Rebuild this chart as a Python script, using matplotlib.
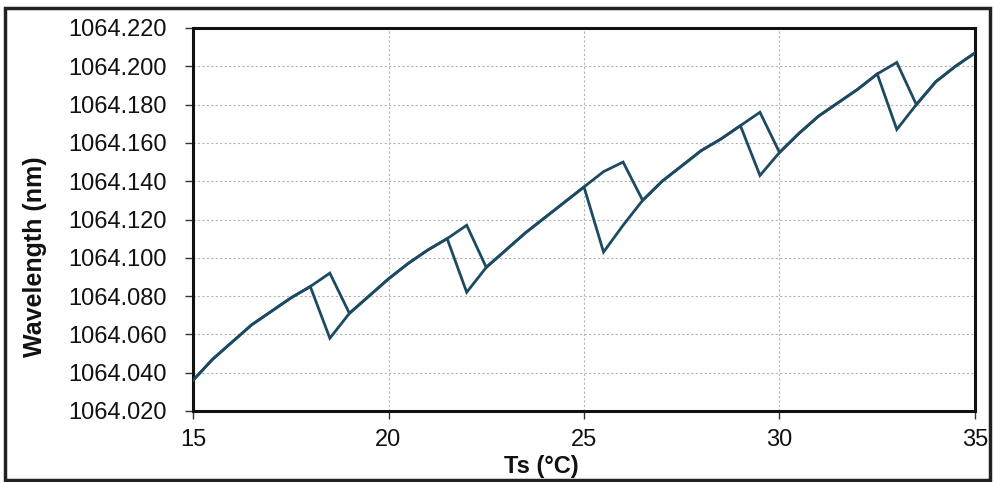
import matplotlib
matplotlib.use("Agg")
import matplotlib.pyplot as plt
from matplotlib.ticker import FormatStrFormatter, MultipleLocator
from matplotlib.patches import Rectangle

plt.rcParams['font.family'] = ['Liberation Sans', 'DejaVu Sans']

# Temperature (°C)
ts = [15, 15.5, 16, 16.5, 17, 17.5, 18, 18.5, 19, 19.5, 20, 20.5, 21, 21.5,
      22, 22.5, 23, 23.5, 24, 24.5, 25, 25.5, 26, 26.5, 27, 27.5, 28, 28.5,
      29, 29.5, 30, 30.5, 31, 31.5, 32, 32.5, 33, 33.5, 34, 34.5, 35]

# Wavelength (nm), heating direction
wl_heating = [1064.036, 1064.047, 1064.056, 1064.065, 1064.072, 1064.079, 1064.085,
              1064.092, 1064.071, 1064.080, 1064.089, 1064.097, 1064.104, 1064.110,
              1064.117, 1064.095, 1064.104, 1064.113, 1064.121, 1064.129, 1064.137,
              1064.145, 1064.150, 1064.130, 1064.140, 1064.148, 1064.156, 1064.162,
              1064.169, 1064.176, 1064.155, 1064.165, 1064.174, 1064.181, 1064.188,
              1064.196, 1064.202, 1064.180, 1064.192, 1064.200, 1064.207]

# Wavelength (nm), cooling direction
wl_cooling = [1064.036, 1064.047, 1064.056, 1064.065, 1064.072, 1064.079, 1064.085,
              1064.058, 1064.071, 1064.080, 1064.089, 1064.097, 1064.104, 1064.110,
              1064.082, 1064.095, 1064.104, 1064.113, 1064.121, 1064.129, 1064.137,
              1064.103, 1064.117, 1064.130, 1064.140, 1064.148, 1064.156, 1064.162,
              1064.169, 1064.143, 1064.155, 1064.165, 1064.174, 1064.181, 1064.188,
              1064.196, 1064.167, 1064.180, 1064.192, 1064.200, 1064.207]

line_color = '#1d4a63'

fig = plt.figure(figsize=(9.95, 4.82), dpi=100)
ax = fig.add_axes([193/995, 1 - 411/482, (975-193)/995, (411-28)/482])

ax.plot(ts, wl_heating, color=line_color, lw=2.0, solid_joinstyle='miter', zorder=3)
ax.plot(ts[::-1], wl_cooling[::-1], color=line_color, lw=2.0, solid_joinstyle='miter', zorder=3)

ax.set_xlim(15, 35)
ax.set_ylim(1064.020, 1064.220)
ax.xaxis.set_major_locator(MultipleLocator(5))
ax.yaxis.set_major_locator(MultipleLocator(0.02))
ax.yaxis.set_major_formatter(FormatStrFormatter('%.3f'))

ax.grid(True, color='#b5b5b5', linestyle=(0, (2, 2)), linewidth=0.8, zorder=0)
for s in ax.spines.values():
    s.set_linewidth(2.2)
    s.set_color('#111111')
ax.tick_params(axis='both', direction='out', length=6, width=1.0, color='#333333',
               labelsize=17, labelcolor='#111111')
ax.tick_params(axis='y', pad=13)
ax.tick_params(axis='x', pad=7)

fig.text(541/995, 1 - 466/482, 'Ts (°C)', ha='center', va='center',
         fontsize=17, fontweight='bold', color='#111111')
fig.text(35/995, 1 - 257/482, 'Wavelength (nm)', ha='center', va='center',
         rotation=90, fontsize=18, fontweight='bold', color='#111111')

fig.patches.append(Rectangle((5/995, 2/482), 985/995, 472/482, transform=fig.transFigure,
                             fill=False, edgecolor='#222222', linewidth=2.5))

fig.savefig('out.png', dpi=100)
